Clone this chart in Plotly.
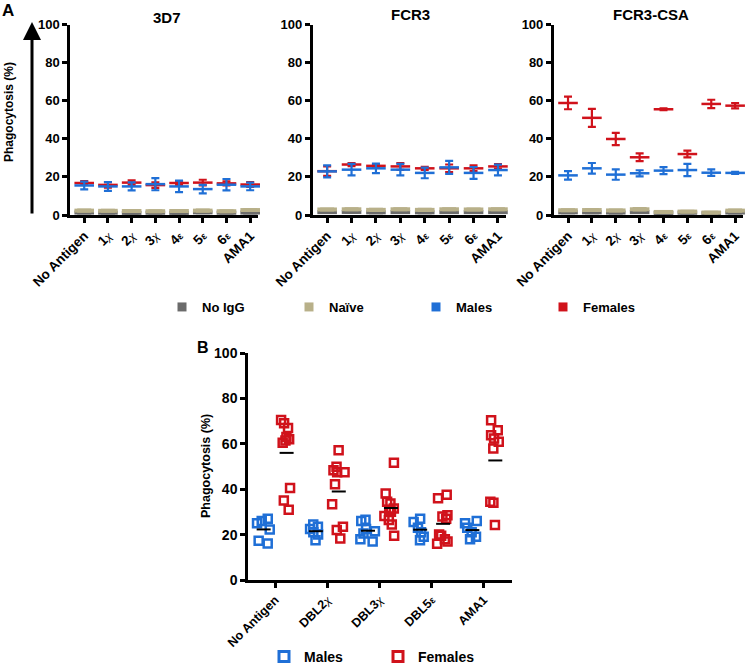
import numpy as np
import plotly.graph_objects as go

# ---------------- DATA ----------------
cats_A = ["No Antigen", "1χ", "2χ", "3χ", "4ε", "5ε", "6ε", "AMA1"]
strains = ["3D7", "FCR3", "FCR3-CSA"]

noigg_3d7 = [1.3, 1.2, 1.1, 1.2, 1.1, 1.4, 1.2, 1.3]
noigg_3d7_err = [0.4, 0.4, 0.4, 0.4, 0.4, 0.4, 0.4, 0.4]
naive_3d7 = [2.3, 2.2, 2.1, 2.0, 2.1, 2.3, 2.0, 2.6]
naive_3d7_err = [0.5, 0.5, 0.5, 0.5, 0.5, 0.5, 0.5, 0.5]
males_3d7 = [15.5, 15.0, 15.0, 16.2, 15.0, 13.6, 15.9, 15.0]
males_3d7_err = [2.0, 2.3, 2.1, 3.2, 3.0, 2.2, 3.0, 2.0]
females_3d7 = [16.8, 15.8, 17.0, 15.7, 16.8, 17.0, 16.6, 16.0]
females_3d7_err = [1.0, 1.5, 1.2, 1.5, 1.0, 1.5, 1.0, 1.3]

noigg_fcr3 = [1.5, 1.6, 1.4, 1.5, 1.4, 1.5, 1.5, 1.5]
noigg_fcr3_err = [0.4, 0.4, 0.4, 0.4, 0.4, 0.4, 0.4, 0.4]
naive_fcr3 = [2.9, 3.0, 2.7, 3.0, 2.7, 3.0, 2.9, 3.0]
naive_fcr3_err = [0.5, 0.5, 0.5, 0.5, 0.5, 0.5, 0.5, 0.5]
males_fcr3 = [22.9, 23.8, 24.5, 23.8, 22.1, 25.0, 22.1, 23.6]
males_fcr3_err = [3.2, 3.0, 2.5, 3.0, 2.8, 3.4, 3.1, 2.8]
females_fcr3 = [23.0, 26.5, 25.8, 25.5, 24.5, 24.5, 24.5, 25.5]
females_fcr3_err = [2.5, 0.8, 0.8, 1.8, 0.8, 2.0, 1.5, 1.2]

noigg_csa = [1.4, 1.4, 1.3, 1.5, 1.1, 1.2, 0.9, 1.3]
noigg_csa_err = [0.4, 0.4, 0.4, 0.4, 0.4, 0.4, 0.4, 0.4]
naive_csa = [2.5, 2.6, 2.4, 3.0, 1.6, 1.8, 1.3, 2.3]
naive_csa_err = [0.5, 0.5, 0.5, 0.6, 0.4, 0.4, 0.4, 0.5]
males_csa = [20.8, 24.5, 21.2, 21.9, 23.3, 23.6, 22.2, 22.1]
males_csa_err = [2.2, 2.8, 2.7, 1.6, 1.8, 3.2, 1.7, 0.5]
females_csa = [58.8, 51.0, 39.9, 30.3, 55.5, 32.0, 58.3, 57.4]
females_csa_err = [3.3, 4.7, 3.2, 2.0, 0.5, 1.8, 2.2, 1.4]

cats_B = ["No Antigen", "DBL2χ", "DBL3χ", "DBL5ε", "AMA1"]
males_B = [
    [27.0, 26.0, 25.0, 22.3, 17.3, 16.1],
    [24.5, 23.5, 22.5, 21.0, 20.0, 17.5],
    [26.5, 26.0, 22.5, 21.5, 20.5, 18.0, 17.0],
    [27.0, 25.5, 23.0, 21.0, 19.0, 17.5],
    [26.0, 25.0, 23.0, 21.0, 19.0, 18.0],
]
females_B = [
    [70.5, 69.0, 67.0, 63.0, 62.0, 61.5, 60.5, 40.5, 35.0, 31.0],
    [57.2, 49.9, 48.4, 47.5, 47.5, 42.2, 33.4, 23.5, 22.0, 18.3],
    [51.6, 38.1, 34.5, 33.7, 31.5, 30.8, 30.1, 28.2, 26.4, 24.5, 19.5],
    [37.5, 36.0, 28.5, 28.0, 27.0, 20.0, 19.5, 18.0, 17.0, 16.0],
    [70.4, 66.0, 63.8, 62.3, 60.9, 57.9, 34.5, 34.0, 24.2],
]

# ---------------- STYLE ----------------
C_NOIGG = "#6b6b6b"
C_NAIVE = "#b8b089"
C_MALE = "#1f6fd6"
C_FEMALE = "#d0121b"
FONT = "Liberation Sans"


def fmt_label(s):
    """Render the Greek domain letter smaller, as in the original figure."""
    out = s
    out = out.replace("χ", "<span style='font-size:11px;font-weight:normal;font-style:italic'>χ</span>")
    out = out.replace("ε", "<span style='font-size:10px'>ε</span>")
    return out


fig = go.Figure()

panelA = [
    (noigg_3d7, noigg_3d7_err, naive_3d7, naive_3d7_err, males_3d7, males_3d7_err, females_3d7, females_3d7_err),
    (noigg_fcr3, noigg_fcr3_err, naive_fcr3, naive_fcr3_err, males_fcr3, males_fcr3_err, females_fcr3, females_fcr3_err),
    (noigg_csa, noigg_csa_err, naive_csa, naive_csa_err, males_csa, males_csa_err, females_csa, females_csa_err),
]

for k, (ng, nge, nv, nve, m, me, f, fe) in enumerate(panelA):
    xa = "x" if k == 0 else f"x{k+1}"
    ya = "y" if k == 0 else f"y{k+1}"
    series = [
        (ng, nge, C_NOIGG, 4, 7),
        (nv, nve, C_NAIVE, 4, 7),
        (f, fe, C_FEMALE, 2.5, 4),
        (m, me, C_MALE, 2.5, 4),
    ]
    for vals, errs, col, lw, cw in series:
        fig.add_trace(go.Scatter(
            x=cats_A, y=vals, xaxis=xa, yaxis=ya, mode="markers",
            marker=dict(symbol="line-ew", size=14, color=col, line=dict(width=lw, color=col)),
            error_y=dict(type="data", array=errs, visible=True, color=col, thickness=2.2, width=cw),
            showlegend=False, cliponaxis=False, hoverinfo="skip",
        ))

# legend A entries
for name, col in [("No IgG", C_NOIGG), ("Naïve", C_NAIVE), ("Males", C_MALE), ("Females", C_FEMALE)]:
    fig.add_trace(go.Scatter(
        x=[None], y=[None], xaxis="x", yaxis="y", mode="markers", name=name,
        marker=dict(symbol="square", size=9, color=col), legend="legend",
    ))

# Panel B
off = 0.22
for sex, data, col, sgn in [("Males", males_B, C_MALE, -1), ("Females", females_B, C_FEMALE, 1)]:
    xs, ys = [], []
    for i, vals in enumerate(data):
        xs += [i + sgn * off] * len(vals)
        ys += vals
    fig.add_trace(go.Box(
        x=xs, y=ys, xaxis="x4", yaxis="y4", boxpoints="all", jitter=1.0, pointpos=0,
        width=0.3, line=dict(width=0, color="rgba(0,0,0,0)"), fillcolor="rgba(0,0,0,0)",
        marker=dict(symbol="square-open", size=8, color=col, line=dict(width=2.5, color=col)),
        showlegend=False, hoverinfo="skip",
    ))
    means = [float(np.mean(v)) for v in data]
    fig.add_trace(go.Scatter(
        x=[i + sgn * off for i in range(len(data))], y=means, xaxis="x4", yaxis="y4",
        mode="markers", marker=dict(symbol="line-ew", size=10, color="black", line=dict(width=2, color="black")),
        showlegend=False, hoverinfo="skip",
    ))

for name, col in [("Males", C_MALE), ("Females", C_FEMALE)]:
    fig.add_trace(go.Scatter(
        x=[None], y=[None], xaxis="x4", yaxis="y4", mode="markers", name=name,
        marker=dict(symbol="square-open", size=10, color=col, line=dict(width=3, color=col)),
        legend="legend2",
    ))

# ---------------- LAYOUT ----------------
def px_x(p):
    return p / 750

def px_y(p):
    return 1 - p / 665

axis_common = dict(showline=True, linewidth=2.5, linecolor="black", ticks="outside",
                   tickwidth=2.5, ticklen=5, tickcolor="black", showgrid=False, zeroline=False,
                   automargin=False)

domainsA = [(70, 258), (312.5, 506), (553.7, 743)]
yA = [px_y(215), px_y(24.5)]
layout = dict(
    width=750, height=665, margin=dict(l=0, r=0, t=0, b=0, pad=0, autoexpand=False),
    plot_bgcolor="white", paper_bgcolor="white",
    font=dict(family=FONT, color="black"),
)
for k, (a, b) in enumerate(domainsA):
    sfx = "" if k == 0 else str(k + 1)
    layout["xaxis" + sfx] = dict(axis_common, domain=[px_x(a), px_x(b)], type="category",
                                 range=[-0.6, 7.33], tickangle=-45, anchor="y" + sfx,
                                 tickmode="array", tickvals=cats_A, ticktext=[fmt_label(c) for c in cats_A],
                                 tickfont=dict(size=13.5, family=FONT, weight="bold"))
    layout["yaxis" + sfx] = dict(axis_common, domain=yA, range=[0, 100], dtick=20, anchor="x" + sfx,
                                 tickfont=dict(size=13, family=FONT, weight="bold"))

layout["xaxis4"] = dict(axis_common, domain=[px_x(248), px_x(512)], range=[-0.52, 4.54],
                        tickvals=list(range(len(cats_B))), ticktext=[fmt_label(c) for c in cats_B],
                        tickangle=-45, anchor="y4",
                        tickfont=dict(size=12.5, family=FONT, weight="bold"))
layout["yaxis4"] = dict(axis_common, domain=[px_y(580), px_y(353)], range=[0, 100], dtick=20, anchor="x4",
                        tickfont=dict(size=14, family=FONT, weight="bold"))

layout["legend"] = dict(orientation="h", x=px_x(162), y=px_y(307), xanchor="left", yanchor="middle",
                        entrywidth=82, entrywidthmode="pixels", bgcolor="rgba(0,0,0,0)",
                        font=dict(size=13, family=FONT, weight="bold"))
layout["legend2"] = dict(orientation="h", x=px_x(264), y=px_y(657), xanchor="left", yanchor="middle",
                         entrywidth=69, entrywidthmode="pixels", bgcolor="rgba(0,0,0,0)",
                         font=dict(size=14, family=FONT, weight="bold"))

fig.update_layout(**layout)

annotations = [
    dict(text="<b>A</b>", x=px_x(8), y=px_y(11), font=dict(size=17)),
    dict(text="<b>B</b>", x=px_x(203), y=px_y(347), font=dict(size=16)),
    dict(text="<b>3D7</b>", x=px_x(167), y=px_y(17), font=dict(size=15)),
    dict(text="<b>FCR3</b>", x=px_x(410), y=px_y(15), font=dict(size=15)),
    dict(text="<b>FCR3-CSA</b>", x=px_x(651), y=px_y(15), font=dict(size=15)),
    dict(text="<b>Phagocytosis (%)</b>", x=px_x(9), y=px_y(112), textangle=-90, font=dict(size=12)),
    dict(text="<b>Phagocytosis (%)</b>", x=px_x(206), y=px_y(466), textangle=-90, font=dict(size=12.5)),
]
for a in annotations:
    fig.add_annotation(xref="paper", yref="paper", showarrow=False, xanchor="center", yanchor="middle",
                       font=dict(family=FONT, color="black", size=a["font"]["size"]),
                       **{k: v for k, v in a.items() if k != "font"})

fig.add_annotation(xref="paper", yref="paper", axref="pixel", ayref="pixel",
                   x=px_x(32), y=px_y(22), ax=0, ay=193, text="",
                   showarrow=True, arrowhead=2, arrowsize=1.2, arrowwidth=3, arrowcolor="black")

fig.write_html("out.html", config={"displayModeBar": False},
               post_script="document.body.style.margin='0';document.body.style.padding='0';")
